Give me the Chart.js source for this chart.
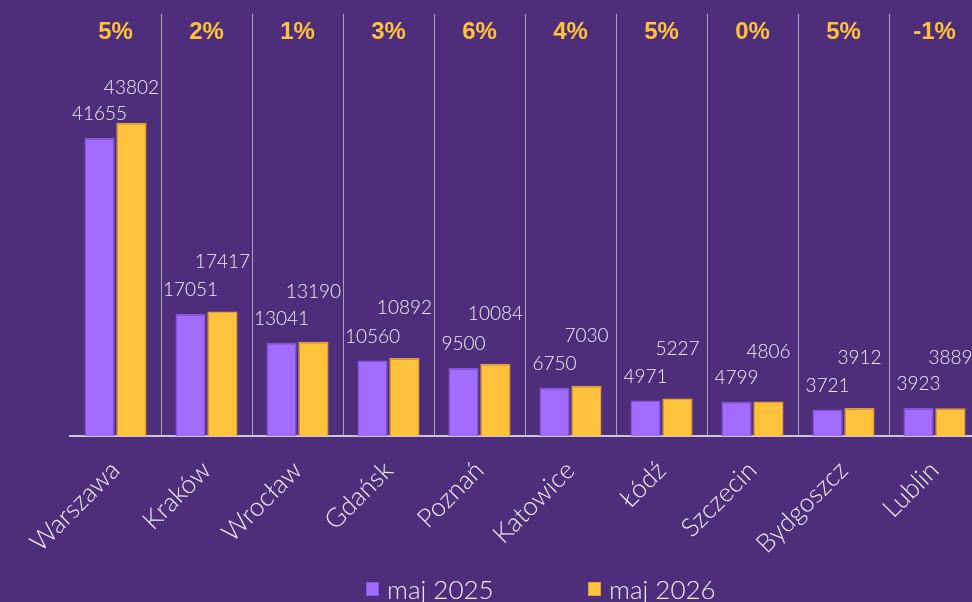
<!DOCTYPE html>
<html lang="pl">
<head>
<meta charset="utf-8">
<title>maj 2025 / maj 2026</title>
<script src="https://cdn.jsdelivr.net/npm/chart.js@4.4.1/dist/chart.umd.min.js"></script>
<style>
  html, body { margin: 0; padding: 0; background: #4e2d7b; }
  #kontener { width: 972px; height: 602px; overflow: hidden; position: relative; }
  #wykres { display: block; background: #4e2d7b; }
  #legenda {
    position: absolute; left: 366px; top: 573px; display: flex;
    font-family: Lato, "Noto Sans", sans-serif; font-weight: 300; font-size: 26px;
    color: #f1eef6; line-height: 32px;
  }
  #legenda .poz { width: 222px; display: flex; align-items: center; }
  #legenda .kw { width: 13px; height: 14px; margin-right: 8px; box-sizing: border-box; border: 1px solid; }
</style>
</head>
<body>
<div id="kontener">
  <canvas id="wykres" width="980" height="602"></canvas>
  <div id="legenda"></div>
</div>
<script>
const miasta = ['Warszawa', 'Kraków', 'Wrocław', 'Gdańsk', 'Poznań', 'Katowice', 'Łódź', 'Szczecin', 'Bydgoszcz', 'Lublin'];
const maj2025 = [41655, 17051, 13041, 10560, 9500, 6750, 4971, 4799, 3721, 3923];
const maj2026 = [43802, 17417, 13190, 10892, 10084, 7030, 5227, 4806, 3912, 3889];
const zmiana = ['5%', '2%', '1%', '3%', '6%', '4%', '5%', '0%', '5%', '-1%'];
const serie = ['maj 2025', 'maj 2026'];

const FIOLET = '#a26dff';
const ZOLTY = '#ffc23c';
const TEKST = '#f1eef6';
const FONT = 'Lato, "Noto Sans", sans-serif';

// etykiety z wartosciami nad slupkami i procenty na gorze
const etykietyPlugin = {
  id: 'etykiety',
  afterDatasetsDraw(chart) {
    const { ctx, chartArea, scales: { x } } = chart;
    ctx.save();
    ctx.textAlign = 'center';
    ctx.textBaseline = 'middle';
    ctx.fillStyle = TEKST;
    ctx.font = `300 19px ${FONT}`;
    chart.data.datasets.forEach((ds, i) => {
      chart.getDatasetMeta(i).data.forEach((bar, j) => {
        let y = bar.y - (i === 0 ? 24 : 50);
        if (i === 1) y = Math.max(y, chartArea.top + 74); // zeby nie wejsc na procenty
        ctx.fillText(ds.data[j], bar.x, y);
      });
    });
    ctx.fillStyle = ZOLTY;
    ctx.font = 'bold 24px "Liberation Sans", Arial, sans-serif';
    zmiana.forEach((txt, j) => {
      ctx.fillText(txt, x.getPixelForValue(j), chartArea.top + 18);
    });
    ctx.restore();
  }
};

const wykres = new Chart(document.getElementById('wykres'), {
  type: 'bar',
  data: {
    labels: miasta,
    datasets: [
      { label: serie[0], data: maj2025, backgroundColor: FIOLET, borderColor: '#8455d6', borderWidth: 1.5 },
      { label: serie[1], data: maj2026, backgroundColor: ZOLTY, borderColor: '#e0a232', borderWidth: 1.5 }
    ]
  },
  options: {
    responsive: false,
    animation: false,
    layout: { padding: { left: 70, top: 14, right: 0, bottom: 0 } },
    datasets: { bar: { categoryPercentage: 0.7, barPercentage: 0.95 } },
    plugins: {
      legend: { display: false },
      tooltip: { enabled: false }
    },
    scales: {
      x: {
        grid: {
          offset: true,
          drawTicks: false,
          color: c => c.index === 0 ? 'transparent' : '#aaa2b6',
          lineWidth: 1
        },
        border: { color: '#cdc6d6', width: 2 },
        ticks: {
          color: TEKST,
          font: { family: FONT, size: 26, weight: '300' },
          minRotation: 45,
          maxRotation: 45,
          padding: 19
        },
        afterFit: s => { s.height = 166; } // os konczy sie na y=436
      },
      y: { display: false, min: 0, max: 59000 }
    }
  },
  plugins: [etykietyPlugin]
});

// legenda w html, z duzym odstepem miedzy pozycjami jak w oryginale
document.getElementById('legenda').innerHTML = wykres.data.datasets.map(ds => `
  <div class="poz">
    <span class="kw" style="background:${ds.backgroundColor};border-color:${ds.borderColor}"></span>
    <span>${ds.label}</span>
  </div>
`).join('');
</script>
</body>
</html>
